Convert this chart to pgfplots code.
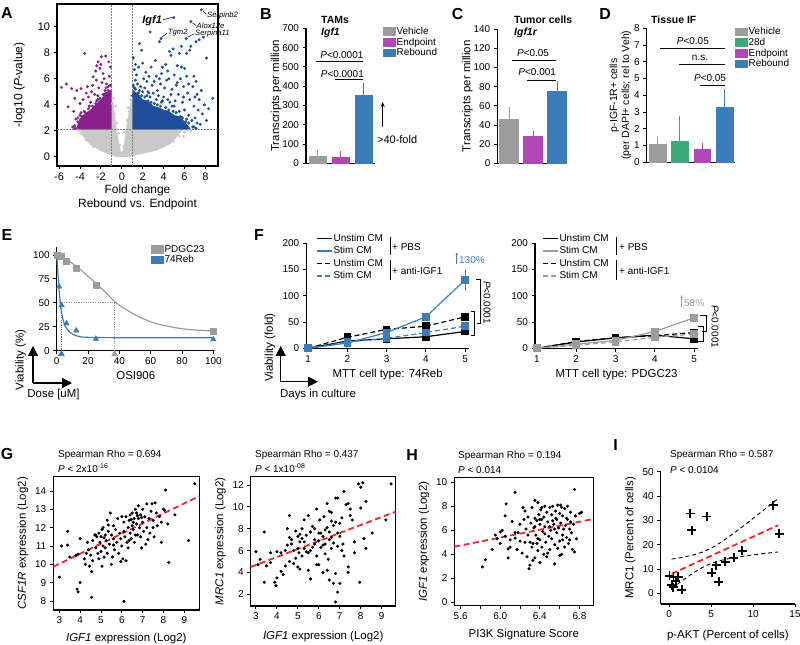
\documentclass[border=0pt]{standalone}
\usepackage{fontspec}
\setmainfont{Liberation Sans}
\usepackage{pgfplots}
\pgfplotsset{compat=1.18}
\usetikzlibrary{arrows.meta}

\definecolor{cGray}{HTML}{9C9C9C}
\definecolor{cMag}{HTML}{B048B5}
\definecolor{cBlue}{HTML}{3A7DB8}
\definecolor{cGreen}{HTML}{3BAA78}
\definecolor{vPurple}{HTML}{8A1F8E}
\definecolor{vBlue}{HTML}{1F4F9C}
\definecolor{vGray}{HTML}{C9C9C9}
\definecolor{cRed}{HTML}{E8282B}

\newcommand{\fsz}[1]{\fontsize{#1}{#1}\selectfont}
\tikzset{sig/.style={line width=1bp}}

\pgfplotsset{
  base/.style={
    scale only axis, clip=false,
    tick align=outside, major tick length=3.5bp,
    tick style={black, line width=0.9bp},
    axis line style={line width=1.1bp},
    tick label style={font=\fsz{10}},
    label style={font=\fontsize{11.5}{13.5}\selectfont},
    /pgf/number format/assume math mode=true,
  },
  prism/.style={base, axis x line*=bottom, axis y line*=left},
  rbox/.style={base, xtick pos=left, ytick pos=left},
  barax/.style={prism, xtick=\empty, ymin=0, ylabel shift=-6bp,
    legend style={draw=none, fill=none, inner sep=0pt, anchor=north west,
      font=\fsz{10}, row sep=0bp, nodes={inner sep=1bp}},
    legend cell align=left},
  lineax/.style={prism, xmin=0.95, xmax=5.1, ymin=0, ymax=200,
    xtick={1,2,3,4,5}, ytick={0,50,100,150,200},
    legend image code/.code={\draw[##1] (0bp,0bp) -- (15bp,0bp);},
    legend style={draw=none, fill=none, inner sep=0pt, anchor=north west,
      font=\fsz{10}, row sep=1.8bp, nodes={inner sep=1bp}},
    legend cell align=left},
  sw/.style={legend image code/.code={\fill[#1] (0bp,-3.5bp) rectangle (12bp,4bp);}},
  reg/.style={cRed, line width=1.8bp, dash pattern=on 6bp off 3.5bp},
  dots/.style={only marks, mark=*, mark size=1.35bp, black},
}

\pgfplotstableread{
x y
3.0 9.3
3.1 11.0
3.4 11.8
3.4 11.05
3.5 10.4
3.8 10.5
3.85 8.65
3.9 8.5
4.0 9.0
4.0 11.4
3.9 10.55
4.55 8.2
6.1 7.98
8.25 10.1
9.2 11.3
9.5 14.4
8.1 14.05
7.9 11.2
8.55 12.7
8.0 13.0
8.05 12.95
8.2 12.2
7.5 12.0
4.2 10.3
4.25 10.0
4.3 10.6
4.35 11.2
4.4 10.8
4.45 9.9
4.5 10.5
4.55 9.6
4.6 10.2
4.6 11.3
4.7 11.6
4.75 10.9
4.8 11.5
4.85 10.6
4.9 10.3
4.9 11.7
4.95 11.2
5.0 11.5
5.0 10.7
5.05 11.9
5.05 9.9
5.1 11.0
5.1 12.0
5.15 10.4
5.2 11.6
5.2 10.9
5.25 11.3
5.3 12.4
5.3 10.6
5.35 11.8
5.4 11.1
5.45 12.8
5.5 11.6
5.5 10.0
5.55 10.4
5.6 12.1
5.6 11.4
5.65 10.8
5.7 11.9
5.75 11.2
5.8 12.5
5.85 10.6
5.9 11.7
5.95 11.4
6.0 12.6
6.0 11.0
6.05 10.3
6.1 11.8
6.1 12.3
6.15 11.5
6.2 10.2
6.2 12.6
6.25 11.2
6.3 12.0
6.3 10.9
6.35 12.4
6.4 11.7
6.4 12.7
6.45 11.4
6.5 12.1
6.5 12.8
6.55 11.9
6.6 12.5
6.6 11.2
6.65 13.0
6.7 12.2
6.7 12.8
6.75 11.6
6.8 12.5
6.8 13.2
6.85 12.0
6.9 11.5
6.9 12.7
6.95 10.9
7.0 12.3
7.0 13.0
7.05 11.8
7.1 12.6
7.15 11.1
7.2 12.0
7.2 13.3
7.3 12.5
7.35 11.7
7.4 12.9
7.45 13.3
7.5 12.4
7.55 11.5
7.6 13.35
7.65 12.8
7.7 12.1
7.8 12.6
7.9 12.3
6.55 12.3
6.65 11.6
6.35 11.3
5.15 11.45
4.75 11.6
5.35 12.15
6.95 12.55
7.25 11.35
6.45 12.45
6.75 12.65
5.95 10.15
5.6 11.05
}\tblG

\pgfplotstableread{
x y
3.0 5.9
3.2 5.2
3.4 7.7
3.4 3.1
3.5 4.6
3.1 4.7
3.7 5.8
3.9 3.1
3.95 2.8
4.0 3.5
4.0 5.9
4.2 4.1
4.3 3.8
4.4 4.6
4.5 8.0
4.6 9.2
4.6 5.0
4.5 6.5
4.7 7.0
4.8 6.0
4.8 4.8
5.0 6.2
5.0 4.5
5.1 7.5
5.1 4.3
5.2 8.0
5.2 5.5
5.3 8.8
5.3 6.8
5.4 7.4
5.5 9.2
5.5 5.8
5.6 3.4
5.5 4.2
5.7 6.3
5.8 7.0
5.9 9.8
5.8 8.0
5.9 5.5
6.0 6.9
6.0 4.7
6.1 7.6
6.2 4.0
6.2 6.5
6.3 7.9
6.3 5.7
6.4 4.2
6.5 7.0
6.5 3.3
6.6 9.5
6.6 6.2
6.7 8.3
6.7 3.0
6.8 1.3
6.8 10.8
6.8 3.9
6.9 2.2
6.9 10.8
6.9 7.6
7.0 3.0
7.0 8.5
7.1 6.0
7.2 11.4
7.2 5.5
7.3 10.2
7.4 10.3
7.4 4.0
7.4 4.5
7.5 9.2
7.5 9.8
7.6 8.8
7.7 5.8
7.7 6.8
7.9 12.1
7.95 3.1
8.0 11.8
8.0 9.9
8.1 12.2
8.15 7.1
8.25 10.5
8.25 6.2
8.55 7.6
9.2 8.8
9.45 12.1
4.6 7.2
4.7 6.6
4.9 7.8
5.0 7.3
5.1 6.8
5.2 7.1
5.3 6.2
5.4 5.9
5.6 7.7
5.7 8.2
5.8 6.6
6.0 7.6
6.1 6.3
6.2 7.3
6.3 6.6
6.4 8.1
6.5 7.7
6.6 7.2
6.7 6.7
6.8 8.6
6.9 6.4
7.0 7.3
7.1 9.0
6.4 10.3
6.5 9.6
6.6 8.7
4.9 5.3
4.4 6.0
4.2 5.8
3.7 4.9
5.6 6.0
6.05 8.8
6.25 9.1
7.15 6.6
6.45 5.2
5.9 4.7
5.05 5.8
}\tblGtwo

\pgfplotstableread{
x y
5.82 2.95
5.85 3.55
5.92 4.4
5.95 5.6
5.97 5.3
6.00 5.85
6.00 4.9
6.02 6.0
6.05 7.2
6.06 8.2
6.08 3.7
6.08 4.45
6.10 5.2
6.12 6.75
6.15 9.15
6.15 5.35
6.17 4.4
6.18 5.8
6.20 5.1
6.22 4.1
6.23 7.9
6.24 6.9
6.25 5.0
6.26 6.1
6.27 3.8
6.28 7.1
6.29 2.8
6.30 3.1
6.30 5.0
6.31 6.6
6.32 7.9
6.32 4.6
6.33 3.5
6.34 6.2
6.35 8.5
6.35 3.7
6.35 7.0
6.36 5.6
6.37 6.8
6.37 4.9
6.38 8.3
6.38 4.3
6.39 7.3
6.40 6.5
6.40 5.2
6.40 3.3
6.41 7.7
6.42 4.6
6.42 6.9
6.43 5.9
6.44 7.1
6.44 4.0
6.45 6.3
6.45 8.0
6.46 5.0
6.47 7.5
6.47 3.8
6.48 6.7
6.49 5.5
6.50 7.9
6.50 4.4
6.51 6.0
6.52 7.3
6.52 5.3
6.53 8.0
6.54 6.5
6.55 3.2
6.55 4.8
6.56 7.0
6.57 5.8
6.57 6.9
6.58 8.1
6.58 4.5
6.59 6.2
6.60 7.4
6.60 5.1
6.61 8.1
6.61 6.6
6.62 4.0
6.63 7.2
6.63 5.6
6.64 6.1
6.65 7.8
6.65 4.6
6.66 6.4
6.67 5.4
6.67 7.0
6.68 8.0
6.69 4.9
6.70 6.1
6.70 5.2
6.71 7.5
6.72 5.8
6.73 4.4
6.74 6.5
6.75 9.4
6.75 4.2
6.76 7.2
6.77 5.3
6.80 7.4
6.82 7.5
6.55 6.1
6.45 5.7
6.35 6.3
6.25 7.6
6.38 5.3
6.48 4.1
6.53 6.8
6.62 7.9
6.68 6.9
6.42 7.9
6.33 4.9
6.28 5.6
6.20 6.5
6.10 4.6
6.05 5.5
6.15 5.8
6.60 3.9
6.40 6.9
6.50 6.3
6.56 7.6
6.63 5.2
6.71 6.7
}\tblH

\begin{document}
\begin{tikzpicture}[x=1bp, y=1bp]
\useasboundingbox (0,0) rectangle (800,645);

% ---------------- A: volcano
\begin{axis}[rbox, at={(57bp,479bp)}, width=161bp, height=162bp,
  xmin=-6.2, xmax=9.2, ymin=-0.7, ymax=11.75,
  xtick={-6,-4,...,8}, ytick={0,2,...,10},
  axis line style={line width=1.3bp},
  tick label style={font=\fsz{11}},
  xlabel={Fold change\\Rebound vs. Endpoint},
  xlabel style={align=center, font=\fontsize{12}{14}\selectfont},
  xlabel shift=-3bp,
  ylabel={-log10 (\textit{P}-value)},
  ylabel style={font=\fsz{12}}, ylabel shift=6bp]
\addplot[fill=vGray, draw=vGray] coordinates {(-0.5,0) (-2.1,0.5) (-3.1,1.0) (-3.6,1.5)
  (-3.9,2.1) (-1,2.1) (-1,4.4) (-0.8,4.0) (-0.5,2.0) (-0.15,0.5) (0,0.3) (0.15,0.5)
  (0.4,2.0) (0.8,4.0) (1,4.5) (1,2.1) (5.8,2.1) (5.2,1.5) (4.6,1.0) (3.3,0.5) (0.5,0)};
\addplot[only marks, mark=*, mark size=1.2bp, vGray] coordinates {
  (-3.5,1.9) (-3.0,1.5) (-2.6,1.2) (-2.0,0.9) (-1.5,0.6) (-3.3,1.7) (-2.8,1.9) (-4.0,2.0)
  (4.5,1.9) (5.0,1.7) (5.5,2.0) (6.0,1.9) (4.0,1.3) (3.5,1.1) (3.0,0.9) (2.5,0.7) (2.0,0.5)
  (1.5,0.4) (6.3,2.05) (4.8,1.5) (-0.8,4.5) (0.8,4.4) (-0.6,3.9) (0.6,3.8) (-0.9,4.1)
  (0.9,4.7) (-0.3,1.8) (0.3,1.9) (-0.5,2.6) (0.5,2.8) (0.2,0.8) (-0.2,0.9) (-1.2,0.3)
  (1.2,0.2) (3.8,1.8) (-2.3,1.4) (5.2,1.85) (6.6,2.0) (-4.2,2.05) (-1.8,0.6) (5.9,1.6)
  (-3.7,1.7) (4.3,1.6) (2.8,1.1) (-3.9,1.8) (-3.4,1.3) (-2.7,0.8) (4.9,1.2) (5.5,1.6)
  (3.9,0.8) (-0.7,3.3) (0.7,3.5)};
\addplot[fill=vPurple, draw=vPurple] coordinates {(-1,2.1) (-1,5.2) (-1.3,4.9) (-1.5,5.0)
  (-1.8,4.6) (-2,4.4) (-2.4,4.1) (-3,3.6) (-3.4,3.4) (-4,2.95) (-4.2,2.5) (-4.4,2.1)};
\addplot[fill=vBlue, draw=vBlue] coordinates {(1,2.1) (1,5.2) (1.4,4.9) (1.7,4.7) (2,4.4)
  (2.5,4.3) (3,3.9) (3.5,3.8) (4,3.6) (4.5,3.5) (5,3.2) (5.5,3.1) (6,2.7) (6.6,2.1)};
\addplot[only marks, mark=*, mark size=1.3bp, vPurple] coordinates {
  (-5.78,5.33) (-5.3,5.6) (-4.8,5.25) (-3.9,5.25) (-5.14,3.85) (-4.5,4.5) (-4.3,5.1)
  (-3.55,7.95) (-2.75,6.15) (-2.27,7.3) (-2.1,6.8) (-1.95,7.7) (-1.54,7.75) (-2.43,5.9)
  (-1.8,6.4) (-1.48,5.6) (-3.2,4.6) (-4.0,4.1) (-3.7,4.4) (-2.0,7.1) (-2.5,6.6) (-1.2,6.2)
  (-1.6,5.1) (-2.2,5.3) (-2.9,5.0) (-3.4,4.9) (-1.3,5.4) (-1.1,6.9) (-4.6,3.5) (-4.2,3.0)
  (-4.1,2.6) (-4.5,2.4) (-3.9,3.4) (-2.6,4.8) (-1.9,5.7) (-1.4,4.9) (-2.8,5.5) (-3.1,3.9)
  (-3.6,3.5) (-4.4,2.9) (-1.7,6.0) (-2.3,4.7) (-3.3,5.4) (-1.25,7.3) (-2.4,7.0) (-3.0,4.2)
  (-2.4,4.3) (-1.8,4.8) (-3.5,3.2) (-4.7,2.3) (-1.1,5.5) (-1.3,5.1) (-1.7,4.8) (-2.1,4.5)
  (-2.5,4.1) (-2.8,3.9) (-3.2,3.7) (-3.5,3.4) (-3.8,3.1) (-4.2,2.7) (-4.5,2.2) (-1.5,5.3)
  (-2.3,4.4) (-3.3,3.3) (-4.0,3.2)};
\addplot[only marks, mark=*, mark size=1.3bp, vBlue] coordinates {
  (1.1,7.6) (1.2,6.7) (1.3,5.9) (1.4,6.3) (1.5,5.6) (1.6,6.9) (1.7,8.7) (1.9,8.2) (1.8,5.4)
  (2.0,7.2) (2.1,6.0) (2.2,5.3) (2.3,6.5) (2.4,5.8) (2.5,5.0) (2.6,6.2) (2.7,9.6) (2.8,6.9)
  (2.9,5.5) (3.0,4.9) (3.1,5.8) (3.2,7.4) (3.3,6.2) (3.4,5.1) (3.5,4.7) (3.6,8.85) (3.75,9.1)
  (3.7,5.6) (3.8,6.4) (3.9,6.9) (4.0,4.6) (4.1,5.3) (4.2,7.1) (4.3,5.9) (4.4,4.4) (4.5,6.0)
  (4.57,8.1) (4.7,7.8) (4.8,5.2) (4.9,8.3) (4.95,10.7) (5.0,6.3) (5.1,4.3) (5.2,5.5) (5.3,7.0)
  (5.4,4.8) (5.5,7.95) (5.6,6.0) (5.7,8.5) (5.7,6.9) (5.8,4.2) (5.9,5.4) (6.0,3.6) (6.16,9.1)
  (6.2,7.95) (6.2,6.2) (6.3,4.9) (6.4,3.2) (6.5,8.2) (6.5,4.4) (6.6,8.5) (6.6,10.4) (6.7,2.8)
  (6.8,5.4) (6.8,2.3) (6.9,3.9) (7.0,3.0) (7.1,8.85) (7.1,5.8) (7.2,2.6) (7.3,3.6) (7.4,9.0)
  (7.4,4.4) (7.5,2.5) (7.6,5.1) (7.6,11.3) (7.8,9.2) (7.9,4.0) (8.1,7.6) (8.1,2.8) (8.7,4.5)
  (6.2,2.2) (6.8,2.3) (5.0,3.9) (5.5,3.5) (5.8,3.0) (6.1,2.7) (1.5,4.9) (2.7,4.6) (3.3,4.4)
  (4.6,4.2) (6.4,5.6) (6.9,6.2) (7.2,4.8) (6.0,6.8) (5.3,5.7) (4.4,6.6) (3.6,6.0) (2.0,5.0)
  (1.2,5.3) (7.7,3.3) (7.0,4.6) (8.3,3.7) (5.9,4.6) (4.7,4.8) (3.9,4.3) (2.4,4.7) (1.3,7.1)
  (1.1,5.5) (1.3,5.2) (1.6,4.9) (1.9,4.7) (2.2,4.6) (2.5,4.3) (2.8,4.2) (3.1,4.1) (3.4,4.0)
  (3.7,3.9) (4.2,3.8) (4.5,3.6) (4.9,3.5) (5.2,3.4) (5.6,3.1) (6.2,2.9) (6.4,2.6) (6.9,2.3)
  (7.1,2.2) (5.4,2.5) (1.05,4.7) (1.7,5.1) (2.6,4.9) (3.8,4.2) (4.8,3.9)};
\addplot[gray, line width=0.7bp, dash pattern=on 1.5bp off 1.5bp] coordinates {(-1,-0.7) (-1,11.75)};
\addplot[gray, line width=0.7bp, dash pattern=on 1.5bp off 1.5bp] coordinates {(1,-0.7) (1,11.75)};
\addplot[gray, line width=0.7bp, dash pattern=on 1.5bp off 1.5bp] coordinates {(-6.2,2.1) (9.2,2.1)};
\draw[line width=0.6bp] (axis cs:3.95,10.55) -- (axis cs:4.85,10.72);
\node[anchor=east, font=\fsz{11}\bfseries\itshape, inner sep=1bp] at (axis cs:3.95,10.5) {Igf1};
\draw[line width=0.5bp] (axis cs:7.75,11.2) -- (axis cs:8.1,10.95);
\node[anchor=west, font=\fsz{7.7}\itshape, inner sep=0.5bp] at (axis cs:8.1,10.9) {Serpinb2};
\draw[line width=0.5bp] (axis cs:6.75,10.3) -- (axis cs:7.1,10.1);
\node[anchor=west, font=\fsz{7.7}\itshape, inner sep=0.5bp] at (axis cs:7.1,10.05) {Alox12e};
\draw[line width=0.5bp] (axis cs:6.3,9.2) -- (axis cs:6.9,9.45);
\node[anchor=west, font=\fsz{7.7}\itshape, inner sep=0.5bp] at (axis cs:6.95,9.5) {Serpina11};
\draw[line width=0.5bp] (axis cs:3.85,9.2) -- (axis cs:4.3,9.5);
\node[anchor=west, font=\fsz{7.7}\itshape, inner sep=0.5bp] at (axis cs:4.35,9.55) {Tgm2};
\end{axis}

% ---------------- B
\begin{axis}[barax, at={(306bp,481.7bp)}, width=69bp, height=135bp,
  xmin=-0.52, xmax=2.48, ymax=700, ytick={0,100,...,700},
  ylabel={Transcripts per million},
  legend style={at={(1.116,1.017)}}]
\addplot[ybar, bar width=17bp, bar shift=0pt, fill=cGray, draw=cGray, forget plot,
  error bars/.cd, y dir=plus, y explicit, error bar style={cGray, line width=1bp},
  error mark options={mark size=4bp, line width=1bp, cGray}] coordinates {(0,38) +- (0,12)};
\addplot[ybar, bar width=17bp, bar shift=0pt, fill=cMag, draw=cMag, forget plot,
  error bars/.cd, y dir=plus, y explicit, error bar style={cMag, line width=1bp},
  error mark options={mark size=4bp, line width=1bp, cMag}] coordinates {(1,29) +- (0,14)};
\addplot[ybar, bar width=17bp, bar shift=0pt, fill=cBlue, draw=cBlue, forget plot,
  error bars/.cd, y dir=plus, y explicit, error bar style={cBlue, line width=1bp},
  error mark options={mark size=4bp, line width=1bp, cBlue}] coordinates {(2,354) +- (0,43)};
\addlegendimage{sw=cGray}\addlegendentry{Vehicle}
\addlegendimage{sw=cMag}\addlegendentry{Endpoint}
\addlegendimage{sw=cBlue}\addlegendentry{Rebound}
\draw[sig] (axis cs:-0.1,527) -- (axis cs:1.96,527);
\draw[sig] (axis cs:0.74,432) -- (axis cs:1.96,432);
\node[font=\fsz{10}] at (axis cs:1.04,561) {\textit{P}<0.0001};
\node[font=\fsz{10}] at (axis cs:1.06,463) {\textit{P}<0.0001};
\end{axis}
\draw[-{Stealth[length=5bp,width=4bp]}, line width=1.1bp] (382.7,518.3) -- (382.7,543);
\node[anchor=west, font=\fsz{11}, inner sep=0pt] at (377,505) {>40-fold};
\node[anchor=west, font=\fsz{10.5}\bfseries, inner sep=0pt] at (321,625) {TAMs};
\node[anchor=west, font=\fsz{10.5}\bfseries\itshape, inner sep=0pt] at (321,612) {Igf1};

% ---------------- C
\begin{axis}[barax, at={(497.3bp,481.7bp)}, width=69.4bp, height=134bp,
  xmin=-0.49, xmax=2.4, ymax=140, ytick={0,20,...,140},
  ylabel={Transcripts per million}]
\addplot[ybar, bar width=19bp, bar shift=0pt, fill=cGray, draw=cGray,
  error bars/.cd, y dir=plus, y explicit, error bar style={cGray, line width=1bp},
  error mark options={mark size=4bp, line width=1bp, cGray}] coordinates {(0,46) +- (0,9)};
\addplot[ybar, bar width=19bp, bar shift=0pt, fill=cMag, draw=cMag,
  error bars/.cd, y dir=plus, y explicit, error bar style={cMag, line width=1bp},
  error mark options={mark size=4bp, line width=1bp, cMag}] coordinates {(1,28) +- (0,2)};
\addplot[ybar, bar width=19bp, bar shift=0pt, fill=cBlue, draw=cBlue,
  error bars/.cd, y dir=plus, y explicit, error bar style={cBlue, line width=1bp},
  error mark options={mark size=4bp, line width=1bp, cBlue}] coordinates {(2,75) +- (0,6.5)};
\draw[sig] (axis cs:0.12,106.9) -- (axis cs:1.96,106.9);
\draw[sig] (axis cs:0.75,86.3) -- (axis cs:1.96,86.3);
\node[font=\fsz{10}] at (axis cs:1.0,115.5) {\textit{P}<0.05};
\node[font=\fsz{10}] at (axis cs:1.17,95.4) {\textit{P}<0.001};
\end{axis}
\node[anchor=west, font=\fsz{10.5}\bfseries, inner sep=0pt] at (514,625) {Tumor cells};
\node[anchor=west, font=\fsz{10.5}\bfseries\itshape, inner sep=0pt] at (514,612) {Igf1r};

% ---------------- D
\begin{axis}[barax, at={(646.7bp,482.7bp)}, width=88.3bp, height=134bp,
  xmin=-0.49, xmax=3.47, ymax=8, ytick={0,1,...,8},
  ylabel={p-IGF-1R+ cells\\(per DAPI+ cells; rel to Veh)},
  ylabel style={align=center, font=\fontsize{10.5}{12}\selectfont},
  ylabel shift=-4bp,
  legend style={at={(1.0,1.015)}}]
\addplot[ybar, bar width=16.5bp, bar shift=0pt, fill=cGray, draw=cGray, forget plot,
  error bars/.cd, y dir=plus, y explicit, error bar style={cGray, line width=1bp},
  error mark options={mark size=4bp, line width=1bp, cGray}] coordinates {(0,1.05) +- (0,0.23)};
\addplot[ybar, bar width=16.5bp, bar shift=0pt, fill=cGreen, draw=cGreen, forget plot,
  error bars/.cd, y dir=plus, y explicit, error bar style={cGreen, line width=1bp},
  error mark options={mark size=4bp, line width=1bp, cGreen}] coordinates {(1,1.25) +- (0,1.25)};
\addplot[ybar, bar width=16.5bp, bar shift=0pt, fill=cMag, draw=cMag, forget plot,
  error bars/.cd, y dir=plus, y explicit, error bar style={cMag, line width=1bp},
  error mark options={mark size=4bp, line width=1bp, cMag}] coordinates {(2,0.8) +- (0,0.12)};
\addplot[ybar, bar width=16.5bp, bar shift=0pt, fill=cBlue, draw=cBlue, forget plot,
  error bars/.cd, y dir=plus, y explicit, error bar style={cBlue, line width=1bp},
  error mark options={mark size=4bp, line width=1bp, cBlue}] coordinates {(3,3.27) +- (0,0.86)};
\addlegendimage{sw=cGray}\addlegendentry{Vehicle}
\addlegendimage{sw=cGreen}\addlegendentry{28d}
\addlegendimage{sw=cMag}\addlegendentry{Endpoint}
\addlegendimage{sw=cBlue}\addlegendentry{Rebound}
\draw[sig] (axis cs:0.1,6.8) -- (axis cs:3.02,6.8);
\draw[sig] (axis cs:0.96,5.81) -- (axis cs:3.02,5.81);
\draw[sig] (axis cs:1.9,4.61) -- (axis cs:3.02,4.61);
\node[font=\fsz{10}] at (axis cs:1.58,7.26) {\textit{P}<0.05};
\node[font=\fsz{10}] at (axis cs:1.9,6.25) {n.s.};
\node[font=\fsz{10}] at (axis cs:2.35,5.05) {\textit{P}<0.05};
\end{axis}
\node[anchor=west, font=\fsz{10.5}\bfseries, inner sep=0pt] at (651,625) {Tissue IF};

% ---------------- E
\begin{axis}[prism, at={(56.7bp,294.3bp)}, width=158.2bp, height=104bp,
  xmin=0, xmax=101, ymin=0, ymax=108.7,
  xtick={0,20,...,100}, ytick={0,25,50,75,100},
  xlabel={OSI906},
  legend style={at={(0.596,1.026)}, draw=none, fill=none, inner sep=0pt,
    anchor=north west, font=\fsz{10}, row sep=0bp, nodes={inner sep=1bp}},
  legend cell align=left]
\addplot[cGray, line width=0.8bp, dash pattern=on 1.2bp off 1.2bp, forget plot] coordinates {(0,50) (37,50) (37,0)};
\addplot[cBlue, line width=0.8bp, dash pattern=on 1.2bp off 1.2bp, forget plot] coordinates {(3,50) (3,0)};
\addplot[cGray, line width=1.2bp, smooth, forget plot] coordinates {(0,100) (6.4,95) (12.8,88)
  (19.2,79) (25.5,69.7) (31.9,60) (37.2,51) (44.7,42.5) (53.2,35) (61.7,29.2) (70.2,25.8)
  (83,22.3) (100,20.6)};
\addplot[cBlue, line width=1.2bp, smooth, forget plot] coordinates {(0,100) (1.07,74) (2.1,53)
  (3.2,39) (5.3,26) (8.5,19) (12.8,15.5) (19,14) (40,13.6) (100,13.5)};
\addplot[only marks, mark=square*, mark size=3bp, cGray, forget plot] coordinates {(0.3,100)
  (3.125,98.5) (6.25,93.5) (12.5,86) (25,68) (100,20.5)};
\addplot[only marks, mark=triangle*, mark size=3.2bp, cBlue, forget plot] coordinates {
  (1.56,67) (3.125,47.5) (6.25,28.5) (12.5,21) (25,12.5) (100,11.8)};
\addplot[only marks, mark=triangle*, mark size=3.5bp, cGray, forget plot] coordinates {(37,-3.5)};
\addplot[only marks, mark=triangle*, mark size=3.5bp, cBlue, forget plot] coordinates {(3,-3.5)};
\addlegendimage{sw=cGray}\addlegendentry{PDGC23}
\addlegendimage{sw=cBlue}\addlegendentry{74Reb}
\end{axis}
\draw[-{Triangle[length=10bp,width=10bp]}, line width=1.3bp] (33,262) -- (33,299);
\draw[-{Triangle[length=10bp,width=10bp]}, line width=1.3bp] (33,262) -- (72,262);
\node[rotate=90, font=\fsz{11.5}] at (20.7,285) {Viability (\%)};
\node[font=\fsz{11.5}] at (53.5,250) {Dose [uM]};

% ---------------- F left
\begin{axis}[lineax, at={(306.3bp,296.7bp)}, width=162.7bp, height=105bp,
  xlabel={MTT cell type: 74Reb},
  legend style={at={(0.06,1.1)}}]
\addplot[black, line width=1.2bp, mark=square*, mark size=3.2bp, forget plot] coordinates {(1,0) (2,14) (3,18) (4,22) (5,32)};
\addplot[black, line width=1.2bp, dash pattern=on 5bp off 3bp, mark=square*, mark size=3.2bp, mark options={solid}, forget plot] coordinates {(1,0) (2,21) (3,36) (4,42) (5,60)};
\addplot[cBlue, line width=1.2bp, dash pattern=on 5bp off 3bp, mark=square*, mark size=3.2bp, mark options={solid}, forget plot] coordinates {(1,0) (2,12) (3,19) (4,30) (5,42)};
\addplot[cBlue, line width=1.2bp, mark=square*, mark size=3.2bp, forget plot,
  error bars/.cd, y dir=both, y explicit, error bar style={cBlue, line width=1bp},
  error mark options={mark size=4bp, line width=1bp, cBlue}] coordinates {(1,0) (2,10) (3,30) (4,60) (5,130) +- (0,14)};
\addlegendimage{black, line width=1.3bp}\addlegendentry{Unstim CM}
\addlegendimage{cBlue, line width=1.3bp}\addlegendentry{Stim CM}
\addlegendimage{black, line width=1.3bp, dash pattern=on 5bp off 3bp}\addlegendentry{Unstim CM}
\addlegendimage{cBlue, line width=1.3bp, dash pattern=on 5bp off 3bp}\addlegendentry{Stim CM}
\end{axis}
\draw[line width=0.8bp] (390,408.3) -- (390,390);
\draw[line width=0.8bp] (390,385) -- (390,365);
\node[anchor=west, font=\fsz{10}, inner sep=1bp] at (391,398.3) {+ PBS};
\node[anchor=west, font=\fsz{10}, inner sep=1bp] at (391,373.7) {+ anti-IGF1};
\draw[cBlue, -{Stealth[length=3bp,width=2.5bp]}, line width=0.7bp] (456.7,381) -- (456.7,392.5);
\node[anchor=west, text=cBlue, font=\fsz{10}, inner sep=0pt] at (459,385) {130\%};
\draw[line width=0.8bp] (476,366) -- (480,366) -- (480,321.7) -- (476.7,321.7);
\draw[line width=0.8bp] (471,333.3) -- (474.3,333.3) -- (474.3,310) -- (471,310);
\node[rotate=-90, font=\fsz{10}] at (487,342.5) {\textit{P}<0.0001};
\draw[-{Triangle[length=10bp,width=10bp]}, line width=1.3bp] (280.7,263.3) -- (280.7,299);
\draw[-{Triangle[length=10bp,width=10bp]}, line width=1.3bp] (280.7,263.3) -- (318,263.3);
\node[rotate=90, font=\fsz{11.5}] at (270,297.5) {Viability (fold)};
\node[font=\fsz{11.5}] at (318,250) {Days in culture};

% ---------------- F right
\begin{axis}[lineax, at={(535bp,296.7bp)}, width=163bp, height=105bp,
  xlabel={MTT cell type: PDGC23},
  legend style={at={(0.043,1.1)}}]
\addplot[black, line width=1.2bp, mark=square*, mark size=3.2bp, forget plot] coordinates {(1,0) (2,12) (3,20) (4,25) (5,18)};
\addplot[black, line width=1.2bp, dash pattern=on 5bp off 3bp, mark=square*, mark size=3.2bp, mark options={solid}, forget plot] coordinates {(1,0) (2,13) (3,20) (4,24) (5,30)};
\addplot[cGray, line width=1.2bp, dash pattern=on 5bp off 3bp, mark=square*, mark size=3.2bp, mark options={solid}, forget plot] coordinates {(1,0) (2,6) (3,12) (4,21) (5,27)};
\addplot[cGray, line width=1.2bp, mark=square*, mark size=3.2bp, forget plot] coordinates {(1,0) (2,8) (3,15) (4,32) (5,58)};
\addlegendimage{black, line width=1.3bp}\addlegendentry{Unstim CM}
\addlegendimage{cGray, line width=1.3bp}\addlegendentry{Stim CM}
\addlegendimage{black, line width=1.3bp, dash pattern=on 5bp off 3bp}\addlegendentry{Unstim CM}
\addlegendimage{cGray, line width=1.3bp, dash pattern=on 5bp off 3bp}\addlegendentry{Stim CM}
\end{axis}
\draw[line width=0.8bp] (616.7,408.3) -- (616.7,390);
\draw[line width=0.8bp] (616.7,385) -- (616.7,365);
\node[anchor=west, font=\fsz{10}, inner sep=1bp] at (618,398.3) {+ PBS};
\node[anchor=west, font=\fsz{10}, inner sep=1bp] at (618,373.7) {+ anti-IGF1};
\draw[cGray, -{Stealth[length=3bp,width=2.5bp]}, line width=0.7bp] (681.7,338) -- (681.7,350);
\node[anchor=west, text=cGray, font=\fsz{10}, inner sep=0pt] at (684,342) {58\%};
\draw[line width=0.8bp] (700,330) -- (706.7,330) -- (706.7,313.3) -- (702,313.3);
\draw[line width=0.8bp] (698,318.3) -- (703.3,318.3) -- (703.3,303.3) -- (698,303.3);
\node[rotate=-90, font=\fsz{10}] at (715,318.3) {\textit{P}<0.0001};

% ---------------- G left
\begin{axis}[rbox, at={(53.3bp,35bp)}, width=146bp, height=133.3bp,
  xmin=2.71, xmax=9.72, ymin=7.51, ymax=14.78,
  xtick={3,...,9}, ytick={8,...,14}, xlabel shift=2bp,
  xlabel={\textit{IGF1} expression (Log2)},
  ylabel={\textit{CSF1R} expression (Log2)}]
\addplot[dots] table {\tblG};
\addplot[reg] coordinates {(2.71,9.87) (9.72,13.72)};
\end{axis}
\node[anchor=west, font=\fsz{10}, inner sep=0pt] at (58,190) {Spearman Rho = 0.694};
\node[anchor=west, font=\fsz{10}, inner sep=0pt] at (58,177) {\textit{P} < 2x10\textsuperscript{-16}};

% ---------------- G right
\begin{axis}[rbox, at={(250.7bp,39bp)}, width=145bp, height=129.3bp,
  xmin=2.75, xmax=9.67, ymin=0.93, ymax=12.76,
  xtick={3,...,9}, ytick={2,4,...,12}, xlabel shift=4bp,
  xlabel={\textit{IGF1} expression (Log2)},
  ylabel={\textit{MRC1} expression (Log2)}]
\addplot[dots] table {\tblGtwo};
\addplot[reg] coordinates {(2.75,4.5) (9.67,9.56)};
\end{axis}
\node[anchor=west, font=\fsz{10}, inner sep=0pt] at (255,190) {Spearman Rho = 0.437};
\node[anchor=west, font=\fsz{10}, inner sep=0pt] at (255,177) {\textit{P} < 1x10\textsuperscript{-08}};

% ---------------- H
\begin{axis}[rbox, at={(454.3bp,39.3bp)}, width=139bp, height=128bp,
  xmin=5.536, xmax=6.94, ymin=-0.28, ymax=10.38,
  xtick={5.6,5.8,6.0,6.2,6.4,6.6,6.8}, xticklabels={5.6,,6.0,,6.4,,6.8},
  ytick={0,2,...,10}, xlabel shift=3bp,
  xlabel={PI3K Signature Score},
  ylabel={\textit{IGF1} expression (Log2)}]
\addplot[dots] table {\tblH};
\addplot[reg] coordinates {(5.536,4.63) (6.94,6.94)};
\end{axis}
\node[anchor=west, font=\fsz{10}, inner sep=0pt] at (458,189) {Spearman Rho = 0.194};
\node[anchor=west, font=\fsz{10}, inner sep=0pt] at (458,175) {\textit{P} < 0.014};

% ---------------- I
\begin{axis}[prism, at={(660.7bp,41bp)}, width=134.3bp, height=132.3bp,
  xmin=-1, xmax=15, ymin=-4.4, ymax=50,
  xtick={0,5,10,15}, ytick={0,10,...,50}, xlabel shift=5bp,
  xlabel={p-AKT (Percent of cells)},
  ylabel={MRC1 (Percent of cells)}]
\addplot[black, line width=0.9bp, dash pattern=on 4bp off 3bp, smooth] coordinates {
  (0.3,14.07) (1,14.44) (2,15.07) (3,15.87) (4,16.99) (5,18.56) (6,20.6) (7,22.94) (8,25.47)
  (9,28.09) (10,30.78) (11,33.49) (12,36.24) (13,38.99)};
\addplot[black, line width=0.9bp, dash pattern=on 4bp off 3bp, smooth] coordinates {
  (0.3,1.93) (1,3.76) (2,6.29) (3,8.63) (4,10.67) (5,12.24) (6,13.36) (7,14.16) (8,14.79)
  (9,15.31) (10,15.78) (11,16.21) (12,16.62) (13,17.01)};
\addplot[reg] coordinates {(0.3,8) (13,28)};
\addplot[only marks, mark=+, mark size=4.5bp, line width=1.8bp, black] coordinates {
  (0.04,7.2) (0.52,6.8) (1.1,6.8) (0.32,3.4) (0.5,2.5) (1.52,1.4) (0.8,5.0) (2.5,32.8) (2.7,26)
  (4.5,31.6) (5.1,8.4) (5.6,11.6) (5.9,4.8) (6.7,13) (7.7,14.6) (8.7,17.4) (12.4,36.3) (13.1,24.4)};
\end{axis}
\node[anchor=west, font=\fsz{10}, inner sep=0pt] at (670,190) {Spearman Rho = 0.587};
\node[anchor=west, font=\fsz{10}, inner sep=0pt] at (670,175) {\textit{P} < 0.0104};

% panel letters
\foreach \l/\px/\py in {A/7/631.5, B/266/631, C/457.5/631, D/605/631, E/7/410, F/259/410, G/7/191, H/412/190, I/615.5/200}
  \node[font=\fsz{16}\bfseries] at (\px,\py) {\l};
\end{tikzpicture}
\end{document}
